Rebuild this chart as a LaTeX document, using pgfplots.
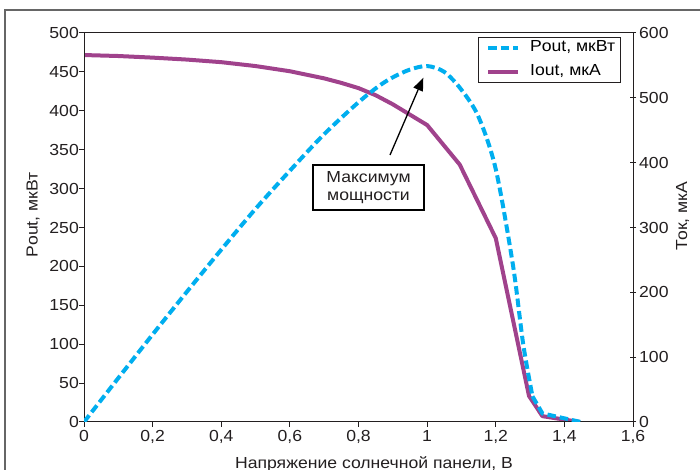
\documentclass[border=0pt]{standalone}
\usepackage{fontspec}
\setmainfont{Liberation Sans}[FakeStretch=1.1]
\usepackage{pgfplots}
\pgfplotsset{compat=1.18}
\usetikzlibrary{arrows.meta}
\definecolor{poutc}{RGB}{0,174,239}
\definecolor{ioutc}{RGB}{160,66,140}
\definecolor{ink}{RGB}{35,31,32}
\newcommand{\chartfont}{\fontsize{16}{18}\selectfont}

\pgfplotsset{
  chartbase/.style={
    scale only axis, width=549pt, height=389pt,
    at={(84pt,48pt)}, anchor=south west,
    xmin=0, xmax=1.6,
    font=\chartfont,
    ticklabel style={font=\chartfont, ink},
    /pgf/number format/assume math mode=true,
    tick style={ink, line width=1pt},
    axis line style={ink, line width=1pt},
  },
}

\begin{document}
\begin{tikzpicture}[x=1pt,y=1pt]
\useasboundingbox (0,0) rectangle (700,470);
\clip (0,0) rectangle (700,470);
\draw[black!60, line width=1.2pt] (5,460) rectangle (720,-20);

% right axis: current, uA
\begin{axis}[chartbase,
  axis y line*=right, axis x line=none,
  ymin=0, ymax=600, ytick={0,100,...,600},
  tick align=center, major tick length=6pt,
  yticklabel style={inner xsep=3pt},
]
\addplot[ioutc, line width=4pt, line join=round] coordinates {
  (0,566) (0.1,564.5) (0.2,562) (0.3,559) (0.4,555) (0.5,549)
  (0.6,541) (0.7,530) (0.75,523) (0.8,515) (0.85,504) (0.9,490) (1.0,458) (1.095,397)
  (1.2,283.5) (1.297,40) (1.336,9) (1.445,0)
};
\end{axis}

% left axis: power, uW
\begin{axis}[chartbase,
  ymin=0, ymax=500, ytick={0,50,...,500},
  xtick={0,0.2,...,1.6},
  xticklabels={0,{0,2},{0,4},{0,6},{0,8},1,{1,2},{1,4},{1,6}},
  xtick pos=bottom, ytick pos=left,
  tick align=outside, major tick length=5pt,
  yticklabel style={inner xsep=0pt},
  legend style={at={(0.717,0.99)}, anchor=north west, draw=ink,
    line width=1pt, fill=white, font=\chartfont,
    inner ysep=2.5pt, row sep=8pt,
    nodes={inner sep=0pt, text height=12pt, text depth=4pt}},
  legend cell align=left,
  legend image code/.code={
    \path[draw=none, fill=none] (-7pt,0pt) -- (0pt,0pt);
    \draw[#1] (0pt,0pt) -- (30pt,0pt);},
]
\addplot[poutc, line width=4pt, dash pattern=on 8.5pt off 4pt, smooth] coordinates {
  (0,0) (0.1,56.5) (0.2,112.5) (0.3,167.5) (0.4,221.5) (0.5,274)
  (0.6,323) (0.7,370) (0.8,411) (0.86,432) (0.9,443) (0.95,453)
  (1.0,457.5) (1.05,450) (1.1,427) (1.15,392) (1.2,325) (1.25,202)
  (1.28,100) (1.307,33)
};
\addlegendentry{\hspace*{10pt}Pout, мкВт\hspace*{2pt}}
\addlegendimage{ioutc, line width=4pt}
\addlegendentry{\hspace*{10pt}Iout, мкА}
\addplot[poutc, line width=4pt, dash pattern=on 8.5pt off 4pt, forget plot] coordinates {
  (1.307,33) (1.336,11) (1.448,0)
};
\end{axis}

\node[ink, rotate=90, anchor=base, font=\chartfont] at (37.5,255) {Pout, мкВт};
\node[ink, rotate=90, anchor=base, font=\chartfont] at (687,254) {Ток, мкА};
\node[ink, anchor=base, font=\chartfont] at (374,1) {Напряжение солнечной панели, В};

\node[draw=black, line width=1.2pt, fill=white, text=ink, align=center,
  minimum width=111pt, minimum height=45pt, inner sep=0pt,
  font=\chartfont] at (368.5,282.5) {Максимум\\мощности};
\draw[black, line width=1.3pt, -{Triangle[length=13pt,width=10pt]}] (390,315) -- (423.3,392.3);
\end{tikzpicture}
\end{document}
